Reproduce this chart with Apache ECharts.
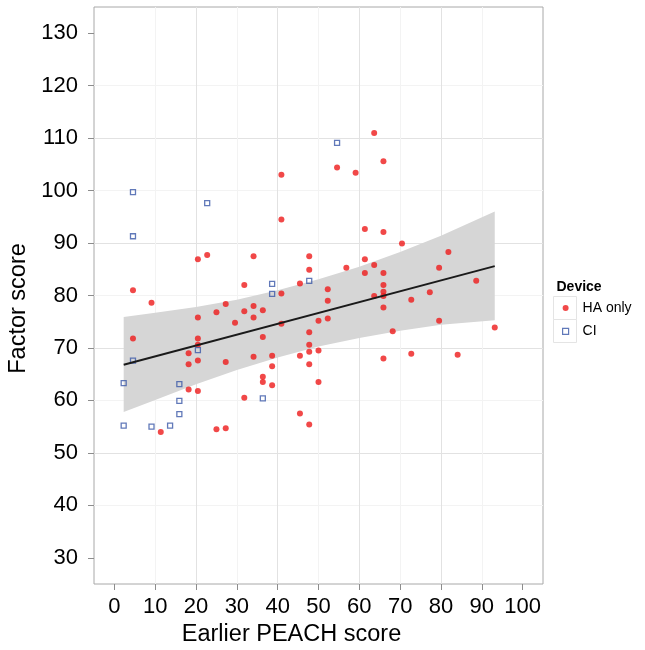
<!DOCTYPE html>
<html><head><meta charset="utf-8">
<script src="https://cdn.jsdelivr.net/npm/echarts@6/dist/echarts.min.js"></script>
<style>html,body{margin:0;padding:0;background:#fff}#c{width:645px;height:650px}</style>
</head><body><div id="c"></div>
<script>
// HA only (red dots)
const haX = [4.55, 4.55, 9.09, 11.36, 18.18, 18.18, 18.18, 20.45, 20.45, 20.45, 20.45, 20.45, 20.45,
  22.73, 25.0, 25.0, 27.27, 27.27, 27.27, 29.55, 31.82, 31.82, 31.82, 34.09, 34.09, 34.09, 34.09,
  36.36, 36.36, 36.36, 36.36, 38.64, 38.64, 38.64, 40.91, 40.91, 40.91, 40.91, 45.45, 45.45, 45.45,
  47.73, 47.73, 47.73, 47.73, 47.73, 47.73, 47.73, 50.0, 50.0, 50.0, 52.27, 52.27, 52.27, 54.55,
  56.82, 59.09, 61.36, 61.36, 61.36, 63.64, 63.64, 63.64, 65.91, 65.91, 65.91, 65.91, 65.91, 65.91,
  65.91, 65.91, 68.18, 70.45, 72.73, 72.73, 77.27, 79.55, 79.55, 81.82, 84.09, 88.64, 93.18];
const haY = [81.0, 71.8, 78.6, 54.0, 69.0, 66.9, 62.1, 86.9, 75.8, 71.8, 70.6, 67.6, 61.8,
  87.7, 76.8, 54.5, 78.4, 67.3, 54.7, 74.8, 82.0, 77.0, 60.5, 87.5, 78.0, 75.8, 68.3,
  77.2, 72.1, 64.5, 63.5, 68.5, 66.5, 62.9, 103.0, 94.5, 80.4, 74.6, 82.3, 68.5, 57.5,
  87.5, 84.9, 73.0, 70.6, 69.3, 66.9, 55.4, 75.2, 69.5, 63.5, 81.2, 79.0, 75.6, 104.4,
  85.3, 103.4, 92.7, 86.9, 84.3, 111.0, 85.8, 79.9, 105.6, 92.1, 84.3, 82.0, 80.7, 79.9,
  77.7, 68.0, 73.2, 89.9, 79.2, 68.9, 80.6, 85.3, 75.2, 88.3, 68.7, 82.8, 73.9];
// CI (hollow blue squares)
const ciX = [4.55, 22.73, 4.55, 20.45, 4.55, 2.27, 15.91, 15.91, 15.91, 2.27, 9.09, 13.64, 54.55, 38.64, 47.73, 38.64, 36.36];
const ciY = [99.7, 97.6, 91.3, 69.6, 67.6, 63.3, 63.1, 59.9, 57.4, 55.2, 55.0, 55.2, 109.1, 82.2, 82.8, 80.3, 60.4];
// fitted line and confidence band
const fitX = [2.27, 93.18];
const fitY = [66.8, 85.6];
const bandX = [2.27, 10, 20, 30, 40, 50, 60, 70, 80, 93.18];
const bandLower = [57.8, 60.1, 63.1, 65.8, 68.2, 70.3, 71.9, 73.3, 74.4, 75.3];
const bandUpper = [75.9, 76.7, 77.8, 79.2, 81.0, 83.1, 85.5, 88.3, 91.4, 96.0];
// tick labels
const xTicks = [0, 10, 20, 30, 40, 50, 60, 70, 80, 90, 100];
const yTicks = [30, 40, 50, 60, 70, 80, 90, 100, 110, 120, 130];

const FONT = 'Liberation Sans, Arial, Helvetica, sans-serif';
const zip = (a, b) => a.map((v, i) => [v, b[i]]);

const chart = echarts.init(document.getElementById('c'), null, {renderer: 'canvas'});
const gridColors = ['#f3f3f3', '#e2e2e2'];
chart.setOption({
  animation: false,
  backgroundColor: '#ffffff',
  textStyle: {fontFamily: FONT},
  grid: {left: 94, top: 7, width: 449, height: 577, show: true, borderColor: '#a8a8a8', borderWidth: 1,
    backgroundColor: '#fff', containLabel: false, outerBoundsMode: 'none'},
  xAxis: {
    type: 'value', min: -5, max: 105, interval: 5,
    name: 'Earlier PEACH score', nameLocation: 'middle', nameGap: 37,
    nameTextStyle: {fontSize: 23.5, color: '#000', fontFamily: FONT, padding: [0, 54, 0, 0]},
    axisLine: {show: false, onZero: false},
    axisTick: {show: true, length: 6, lineStyle: {color: '#8c8c8c'}, customValues: xTicks},
    axisLabel: {fontSize: 22, color: '#000', margin: 12, fontFamily: FONT, customValues: xTicks,
      formatter: v => (v % 10 === 0 && v >= 0 && v <= 100) ? String(v) : ''},
    splitLine: {show: true, showMinLine: false, showMaxLine: false, lineStyle: {color: gridColors, width: 1}}
  },
  yAxis: {
    type: 'value', min: 25, max: 135, interval: 5,
    name: 'Factor score', nameLocation: 'middle', nameGap: 62, nameRotate: 90,
    nameTextStyle: {fontSize: 23.5, color: '#000', fontFamily: FONT, padding: [0, 26, 0, 0]},
    axisLine: {show: false, onZero: false},
    axisTick: {show: true, length: 6, lineStyle: {color: '#8c8c8c'}, customValues: yTicks},
    axisLabel: {fontSize: 22, color: '#000', margin: 16, fontFamily: FONT, customValues: yTicks,
      formatter: v => (v % 10 === 0 && v >= 30 && v <= 130) ? String(v) : ''},
    splitLine: {show: true, showMinLine: false, showMaxLine: false, lineStyle: {color: gridColors, width: 1}}
  },
  legend: {
    orient: 'vertical', left: 557, top: 295, itemWidth: 6, itemHeight: 6, itemGap: 7.4,
    selectedMode: false, z: 10,
    textStyle: {fontSize: 14, color: '#000', fontFamily: FONT, padding: [0, 0, 0, 9], lineHeight: 16},
    data: [
      {name: 'HA only', icon: 'circle', itemStyle: {color: '#ee1c1c', borderWidth: 0}},
      {name: 'CI', icon: 'rect', itemStyle: {color: '#ffffff', borderColor: '#3a58a8', borderWidth: 1.2}}
    ]
  },
  graphic: [
    {type: 'text', x: 556.5, y: 287, z: 5, style: {text: 'Device', font: 'bold 14px ' + FONT, fill: '#000', textAlign: 'left', textVerticalAlign: 'middle', align: 'left', verticalAlign: 'middle'}},
    {type: 'rect', z: 1, shape: {x: 553.5, y: 296.5, width: 23, height: 23}, style: {fill: '#fff', stroke: '#e4e4e4', lineWidth: 1}},
    {type: 'rect', z: 1, shape: {x: 553.5, y: 319.5, width: 23, height: 23}, style: {fill: '#fff', stroke: '#e4e4e4', lineWidth: 1}}
  ],
  series: [
    {
      name: 'band', type: 'custom', coordinateSystem: 'cartesian2d', z: 1, silent: true,
      data: [[bandX[0], bandLower[0]]],
      renderItem: function (params, api) {
        const pts = [];
        for (let i = 0; i < bandX.length; i++) pts.push(api.coord([bandX[i], bandUpper[i]]));
        for (let i = bandX.length - 1; i >= 0; i--) pts.push(api.coord([bandX[i], bandLower[i]]));
        return {type: 'polygon', shape: {points: pts}, style: {fill: '#d6d6d6'}};
      }
    },
    {
      name: 'HA only', type: 'scatter', z: 3, symbol: 'circle', symbolSize: 6,
      itemStyle: {color: '#ee1a1a'},
      data: zip(haX, haY)
    },
    {
      name: 'CI', type: 'scatter', z: 3, symbol: 'rect', symbolSize: 5,
      itemStyle: {color: 'rgba(255,255,255,0)', borderColor: '#3a58a8', borderWidth: 1.3},
      data: zip(ciX, ciY)
    },
    {
      name: 'fit', type: 'line', z: 4, showSymbol: false, silent: true,
      lineStyle: {color: '#1a1a1a', width: 2},
      data: zip(fitX, fitY)
    }
  ]
});
</script></body></html>
